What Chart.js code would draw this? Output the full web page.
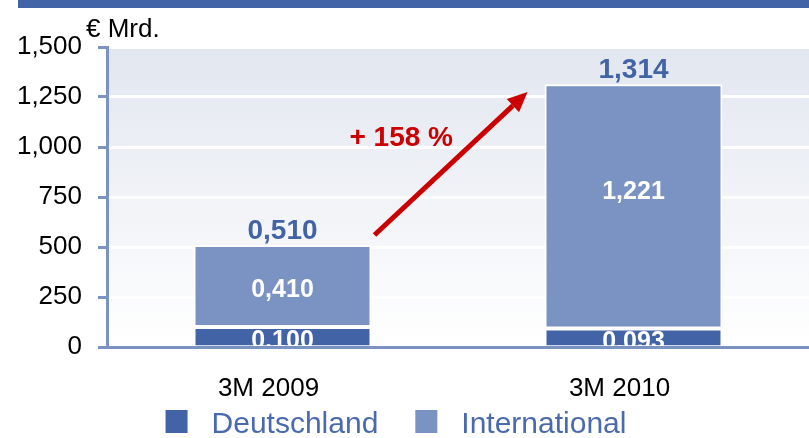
<!DOCTYPE html>
<html><head><meta charset="utf-8">
<script src="https://cdn.jsdelivr.net/npm/chart.js@4"></script>
<style>html,body{margin:0;padding:0;background:#fff;overflow:hidden}</style>
</head><body>
<canvas id="c" width="809" height="438"></canvas>
<script>
// ---- data ----
const categories = ['3M 2009', '3M 2010'];
const seriesNames = ['Deutschland', 'International'];
const deutschland = [100, 93];
const international = [410, 1221];
const yTicks = [0, 250, 500, 750, 1000, 1250, 1500];
const unitLabel = '€ Mrd.';
const growthLabel = '+ 158 %';
const arrowFromValue = 560;
const arrowToValue = 1275;
const growthTextValue = 1005;

// ---- style ----
const FONT = '"Liberation Sans", Arial, sans-serif';
const DARK = '#4263a6', LIGHT = '#7b93c3', AXIS = '#7b93c3', RED = '#cc0000';
const insideLabelNudge = [[5, 5], [4, -14]];

function fmt(v){ return (v/1000).toFixed(3).replace('.', ','); }
function thousands(v){ return String(v).replace(/\B(?=(\d{3})+(?!\d))/g, ','); }

const decor = {
  id: 'decor',
  beforeDraw(chart){
    const {ctx, chartArea: a, width} = chart;
    ctx.save();
    ctx.fillStyle = '#4464a8';
    ctx.fillRect(18, 0, width - 18, 8);
    const g = ctx.createLinearGradient(0, a.top, 0, a.bottom);
    g.addColorStop(0, '#e2e6ef');
    g.addColorStop(1, '#ffffff');
    ctx.fillStyle = g;
    ctx.fillRect(a.left, a.top, a.right - a.left, a.bottom - a.top);
    ctx.restore();
  },
  afterDatasetsDraw(chart){
    const {ctx, scales: {y}} = chart;
    const metas = [chart.getDatasetMeta(0), chart.getDatasetMeta(1)];
    ctx.save();
    ctx.textAlign = 'center'; ctx.textBaseline = 'middle';
    ctx.fillStyle = '#fff'; ctx.font = `bold 25px ${FONT}`;
    metas.forEach((m, di) => m.data.forEach((el, i) => {
      const v = chart.data.datasets[di].data[i];
      ctx.fillText(fmt(v), el.x, (el.y + el.base) / 2 + insideLabelNudge[di][i]);
    }));
    ctx.fillStyle = DARK; ctx.font = `bold 28px ${FONT}`; ctx.textBaseline = 'alphabetic';
    categories.forEach((c, i) => {
      const total = deutschland[i] + international[i];
      ctx.fillText(fmt(total), metas[1].data[i].x, y.getPixelForValue(total) - 6);
    });
    const b0 = metas[1].data[0], b1 = metas[1].data[1];
    const x0 = b0.x + b0.width / 2 + 3, y0 = y.getPixelForValue(arrowFromValue);
    const x1 = b1.x - b1.width / 2 - 17, y1 = y.getPixelForValue(arrowToValue);
    const ang = Math.atan2(y1 - y0, x1 - x0);
    const hl = 20, hw = 9;
    const bx = x1 - hl * Math.cos(ang), by = y1 - hl * Math.sin(ang);
    ctx.strokeStyle = RED; ctx.lineWidth = 5; ctx.lineCap = 'butt';
    ctx.beginPath(); ctx.moveTo(x0, y0); ctx.lineTo(bx, by); ctx.stroke();
    ctx.fillStyle = RED; ctx.beginPath(); ctx.moveTo(x1, y1);
    ctx.lineTo(bx + hw * Math.sin(ang), by - hw * Math.cos(ang));
    ctx.lineTo(bx - hw * Math.sin(ang), by + hw * Math.cos(ang));
    ctx.closePath(); ctx.fill();
    ctx.font = `bold 28px ${FONT}`; ctx.textAlign = 'right';
    ctx.fillText(growthLabel, (b0.x + b1.x) / 2 - 5, y.getPixelForValue(growthTextValue));
    ctx.restore();
  },
  afterDraw(chart){
    const {ctx, chartArea: a, height} = chart;
    ctx.save();
    ctx.fillStyle = '#000'; ctx.font = `26px ${FONT}`;
    ctx.textAlign = 'left'; ctx.textBaseline = 'alphabetic';
    ctx.fillText(unitLabel, a.left - 21, a.top - 10);
    ctx.font = `30px ${FONT}`;
    const colors = [DARK, LIGHT];
    const widths = seriesNames.map(n => ctx.measureText(n).width);
    const box = 22, gap = 24, itemGap = 37;
    const total = box * 2 + gap * 2 + widths[0] + widths[1] + itemGap;
    let lx = (a.left + a.right) / 2 - 62 - total / 2;
    const ly = height - 5;
    seriesNames.forEach((n, i) => {
      ctx.fillStyle = colors[i];
      ctx.fillRect(lx, ly - 23, box, box + 1);
      ctx.fillStyle = '#4a6aae';
      ctx.fillText(n, lx + box + gap, ly);
      lx += box + gap + widths[i] + itemGap;
    });
    ctx.restore();
  }
};

new Chart(document.getElementById('c'), {
  type: 'bar',
  data: {
    labels: categories,
    datasets: [
      {label: seriesNames[0], data: deutschland, backgroundColor: DARK, borderColor: '#fff',
       borderWidth: {top: 2, left: 2, right: 2, bottom: 0}, borderSkipped: false},
      {label: seriesNames[1], data: international, backgroundColor: LIGHT, borderColor: '#fff',
       borderWidth: 2, borderSkipped: false}
    ]
  },
  options: {
    responsive: false, animation: false, devicePixelRatio: 1,
    layout: {padding: {top: 47, left: 0, right: 0, bottom: 0}},
    datasets: {bar: {categoryPercentage: 1, barPercentage: 0.507}},
    plugins: {legend: {display: false}, tooltip: {enabled: false}},
    scales: {
      x: {
        stacked: true,
        grid: {display: false},
        border: {color: AXIS, width: 3, z: 1},
        ticks: {color: '#000', font: {family: FONT, size: 26}, padding: 18, labelOffset: -14, maxRotation: 0},
        afterFit(s){ s.height = 91; }
      },
      y: {
        stacked: true, min: 0, max: 1500,
        afterBuildTicks(s){ s.ticks = yTicks.map(v => ({value: v})); },
        ticks: {color: '#000', font: {family: FONT, size: 26}, padding: 16, callback: v => thousands(v)},
        grid: {color: '#fff', lineWidth: 3, tickColor: AXIS, tickWidth: 3, tickLength: 9, drawTicks: true},
        border: {color: AXIS, width: 3, z: 1},
        afterFit(s){ s.width = 107; }
      }
    }
  },
  plugins: [decor]
});
</script>
</body></html>
